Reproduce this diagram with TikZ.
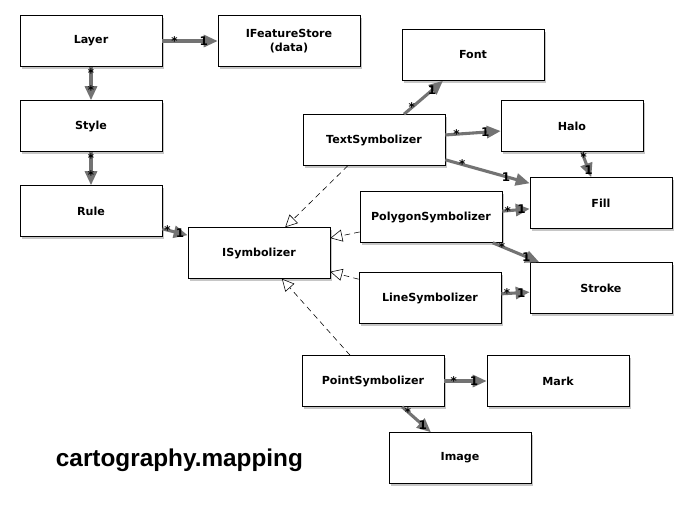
\documentclass[tikz,border=0pt]{standalone}
\usepackage{fontspec}
\setmainfont{DejaVu Sans}
\newfontfamily\titlefont{Liberation Sans}
\usetikzlibrary{arrows.meta,shadows}

\begin{document}
\begin{tikzpicture}[x=0.025cm, y=-0.025cm,
      every node/.style={font=\fontsize{7.9}{9.5}\selectfont\bfseries},
      cls/.style={
        draw, fill=white, minimum width=3.55cm, minimum height=1.275cm,
        inner sep=1pt, align=center,
        drop shadow={shadow xshift=1.2pt, shadow yshift=-1.5pt, opacity=0.45}
      },
      assoc/.style={draw=black!55, line width=2.2pt,
        -{Triangle[length=3.5mm,width=3mm]}},
      realize/.style={dash pattern=on 4pt off 3pt, thin,
        -{Triangle[open,length=3mm,width=3mm,fill=white]}},
      mult/.style={font=\fontsize{8.5}{9}\selectfont\bfseries, inner sep=0pt}
    ]
    \useasboundingbox (0,0) rectangle (692,508);

    \node[cls] (layer) at (91,41) {Layer};
    \node[cls] (store) at (289,41) {IFeatureStore\\(data)};
    \node[cls] (style) at (91,126) {Style};
    \node[cls] (rule) at (91,211) {Rule};
    \node[cls] (isym) at (259,253) {ISymbolizer};
    \node[cls] (text) at (374,140) {TextSymbolizer};
    \node[cls] (font) at (473,55) {Font};
    \node[cls] (halo) at (572,126) {Halo};
    \node[cls] (fill) at (601,203) {Fill};
    \node[cls] (poly) at (431,217) {PolygonSymbolizer};
    \node[cls] (line) at (430,298) {LineSymbolizer};
    \node[cls] (stroke) at (601,288) {Stroke};
    \node[cls] (point) at (373,381) {PointSymbolizer};
    \node[cls] (mark) at (558,381) {Mark};
    \node[cls] (image) at (460,458) {Image};

    \node[font=\titlefont\fontsize{17.3}{20}\selectfont\bfseries, anchor=west]
      (title) at (51,460) {cartography.mapping};

    % associations
    \draw[assoc] (layer) -- node[mult,pos=0.22]{*} node[mult,pos=0.75]{1} (store);
    \draw[assoc] (layer) -- node[mult,pos=0.2]{*} node[mult,pos=0.7]{*} (style);
    \draw[assoc] (style) -- node[mult,pos=0.2]{*} node[mult,pos=0.7]{*} (rule);
    \draw[assoc] (rule) -- node[mult,pos=0.2]{*} node[mult,pos=0.7]{1} (isym);
    \draw[assoc] (text) -- node[mult,pos=0.2]{*} node[mult,pos=0.72]{1} (font);
    \draw[assoc] (text) -- node[mult,pos=0.2]{*} node[mult,pos=0.72]{1} (halo);
    \draw[assoc] (text) -- node[mult,pos=0.2]{*} node[mult,pos=0.72]{1} (fill);
    \draw[assoc] (halo) -- node[mult,pos=0.2]{*} node[mult,pos=0.72]{1} (fill);
    \draw[assoc] (poly) -- node[mult,pos=0.2]{*} node[mult,pos=0.7]{1} (fill);
    \draw[assoc] (poly) -- node[mult,pos=0.2]{*} node[mult,pos=0.72]{1} (stroke);
    \draw[assoc] (line) -- node[mult,pos=0.2]{*} node[mult,pos=0.7]{1} (stroke);
    \draw[assoc] (point) -- node[mult,pos=0.22]{*} node[mult,pos=0.7]{1} (mark);
    \draw[assoc] (point) -- node[mult,pos=0.2]{*} node[mult,pos=0.72]{1} (image);

    % realizations
    \draw[realize] (text) -- (isym);
    \draw[realize] (poly) -- (isym);
    \draw[realize] (line) -- (isym);
    \draw[realize] (point) -- (isym);
  \end{tikzpicture}
\end{document}
